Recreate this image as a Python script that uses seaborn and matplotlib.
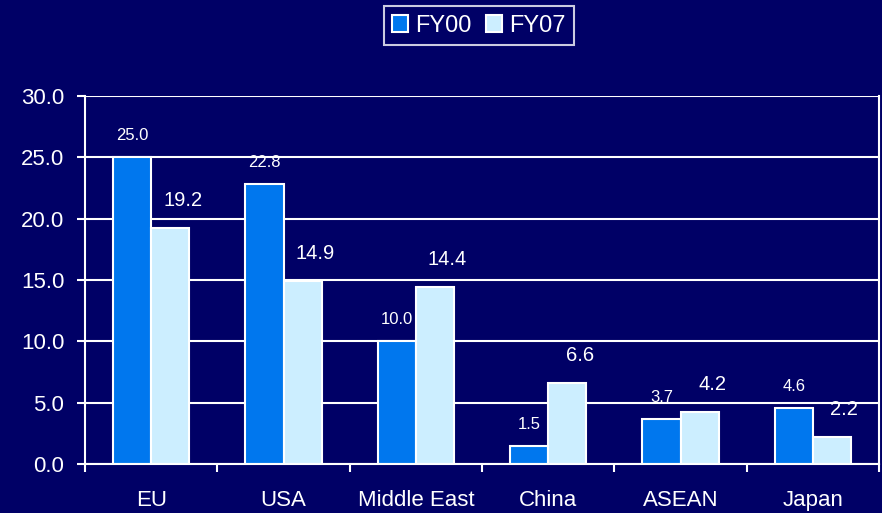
import matplotlib
matplotlib.use("Agg")
import matplotlib.pyplot as plt
import seaborn as sns
import numpy as np
import pandas as pd

regions = ['EU', 'USA', 'Middle East', 'China', 'ASEAN', 'Japan']
fy00 = [25.0, 22.8, 10.0, 1.5, 3.7, 4.6]
fy07 = [19.2, 14.9, 14.4, 6.6, 4.2, 2.2]
series = ['FY00', 'FY07']

bg = '#000066'
colors = ['#0077EE', '#CCEEFF']

df = pd.DataFrame({
    'region': regions * 2,
    'share': fy00 + fy07,
    'year': [series[0]] * len(regions) + [series[1]] * len(regions),
})

sns.set_style('dark')
plt.rcParams['font.family'] = ['Liberation Sans', 'DejaVu Sans']

fig = plt.figure(figsize=(8.82, 5.13), dpi=100, facecolor=bg)
ax = fig.add_axes([0.0964, 0.0955, 0.9002, 0.7175])
ax.set_facecolor(bg)

sns.barplot(data=df, x='region', y='share', hue='year', order=regions,
            hue_order=series, palette=colors, width=0.575, saturation=1,
            edgecolor='white', linewidth=1.5, ax=ax, legend=True)

ax.set_xlim(-0.5, len(regions) - 0.5)
ax.set_ylim(0, 30)
ax.set_yticks(np.arange(0, 31, 5))
ax.set_yticklabels([f'{v:.1f}' for v in np.arange(0, 31, 5)])
ax.grid(False)
ax.yaxis.grid(True, color='white', linewidth=1.5)
ax.set_axisbelow(True)

for s in ['left', 'bottom', 'right']:
    ax.spines[s].set_visible(True)
    ax.spines[s].set_color('white')
    ax.spines[s].set_linewidth(1.5)
ax.spines['top'].set_visible(False)

ax.tick_params(axis='y', colors='white', labelsize=16, length=6, width=1.5,
               direction='out', pad=9, left=True)
ax.set_xticks(np.arange(-0.5, len(regions), 1.0), minor=True)
ax.tick_params(axis='x', which='minor', colors='white', length=6, width=1.5,
               direction='out', bottom=True)
ax.tick_params(axis='x', which='major', colors='white', labelsize=16,
               length=0, pad=19)
ax.set_xlabel('')
ax.set_ylabel('')

# value labels
for i, cont in enumerate(ax.containers):
    for bar in cont:
        h = bar.get_height()
        cx = bar.get_x() + bar.get_width() / 2
        if i == 0:
            ax.annotate(f'{h:.1f}', (cx, h), xytext=(0, 10),
                        textcoords='offset points', ha='center', va='bottom',
                        color='white', fontsize=12)
        else:
            ax.annotate(f'{h:.1f}', (cx, h), xytext=(9, 13),
                        textcoords='offset points', ha='center', va='bottom',
                        color='white', fontsize=14.5)

leg = ax.legend(loc='center', bbox_to_anchor=(0.543, 0.95),
                bbox_transform=fig.transFigure, ncol=2, frameon=True,
                fontsize=17, handlelength=0.7, handleheight=0.7,
                handletextpad=0.3, columnspacing=0.6, borderpad=0.35,
                fancybox=False)
leg.get_frame().set_facecolor(bg)
leg.get_frame().set_edgecolor('white')
leg.get_frame().set_linewidth(1.5)
for t in leg.get_texts():
    t.set_color('white')

fig.savefig('out.png', dpi=100, facecolor=bg)
